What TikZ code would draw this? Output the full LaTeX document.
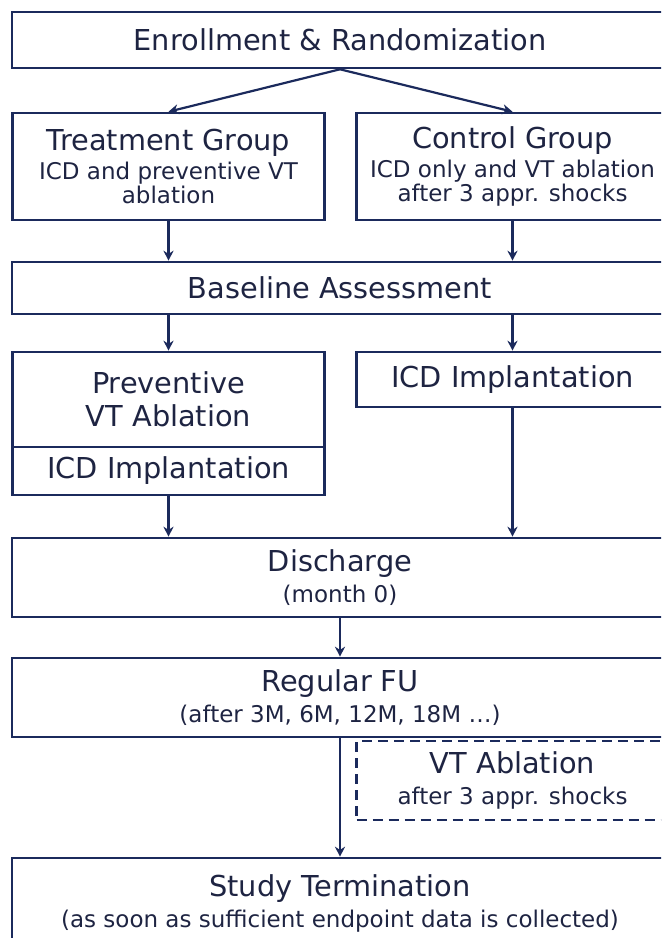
\documentclass[tikz,border=0pt]{standalone}
\usepackage{fontspec}
\setmainfont{DejaVu Sans}
\usetikzlibrary{arrows.meta}
\definecolor{navy}{HTML}{1B2A5C}
\definecolor{ink}{HTML}{1E2442}
\newcommand{\subfont}{\fontsize{11.5}{12}\selectfont}

\begin{document}
\begin{tikzpicture}[x=0.5pt,y=-0.5pt,
    box/.style={draw=navy,line width=1.3pt,rectangle,inner sep=0pt,align=center,
        text=ink,font=\fontsize{14.4}{12}\selectfont},
    wide box/.style={box,minimum width=328pt},
    half box/.style={box,minimum width=156pt},
    dash box/.style={half box,dash pattern=on 5pt off 3pt},
    flow/.style={-{Stealth[length=5pt,width=5pt]},draw=navy,line width=1.1pt}
]
    \useasboundingbox (0,0) rectangle (661,938);
    \clip (0,0) rectangle (661,938);

    \node[wide box,minimum height=28pt] (enr) at (340,40) {Enrollment \& Randomization};
    \node[half box,minimum height=53.5pt] (tg) at (168.5,166.5)
        {Treatment Group\\[2.5pt]\subfont ICD and preventive VT\\\subfont ablation};
    \node[half box,minimum height=53.5pt] (cg) at (512.5,166.5)
        {Control Group\\[2.5pt]\subfont ICD only and VT ablation\\\subfont after 3 appr. shocks};
    \node[wide box,minimum height=26pt] (base) at (340,288) {Baseline Assessment};
    \node[half box,minimum height=47.5pt] (prev) at (168.5,399.5) {Preventive\\[4.5pt]VT Ablation};
    \node[half box,minimum height=24pt] (icdl) at (168.5,471) {ICD Implantation};
    \node[half box,minimum height=27.5pt] (icdr) at (512.5,379.5) {ICD Implantation};
    \node[wide box,minimum height=39.5pt] (dis) at (340,577.5)
        {Discharge\\[3.5pt]\subfont (month 0)};
    \node[wide box,minimum height=39.5pt] (fu) at (340,697.5)
        {Regular FU\\[3.5pt]\subfont (after 3M, 6M, 12M, 18M \dots)};
    \node[dash box,minimum height=39.5pt] (vt) at (512.5,780.5)
        {VT Ablation\\[3.5pt]\subfont after 3 appr. shocks};
    \node[wide box,minimum height=45pt] (term) at (340,903)
        {Study Termination\\[3.5pt]\subfont (as soon as sufficient endpoint data is collected)};

    \draw[flow] (enr.south) -- (tg.north);
    \draw[flow] (enr.south) -- (cg.north);
    \draw[flow] (tg.south) -- (tg.south |- base.north);
    \draw[flow] (cg.south) -- (cg.south |- base.north);
    \draw[flow] (prev.north |- base.south) -- (prev.north);
    \draw[flow] (icdr.north |- base.south) -- (icdr.north);
    \draw[flow] (icdl.south) -- (icdl.south |- dis.north);
    \draw[flow] (icdr.south) -- (icdr.south |- dis.north);
    \draw[flow] (dis) -- (fu);
    \draw[flow] (fu) -- (term);
\end{tikzpicture}
\end{document}
